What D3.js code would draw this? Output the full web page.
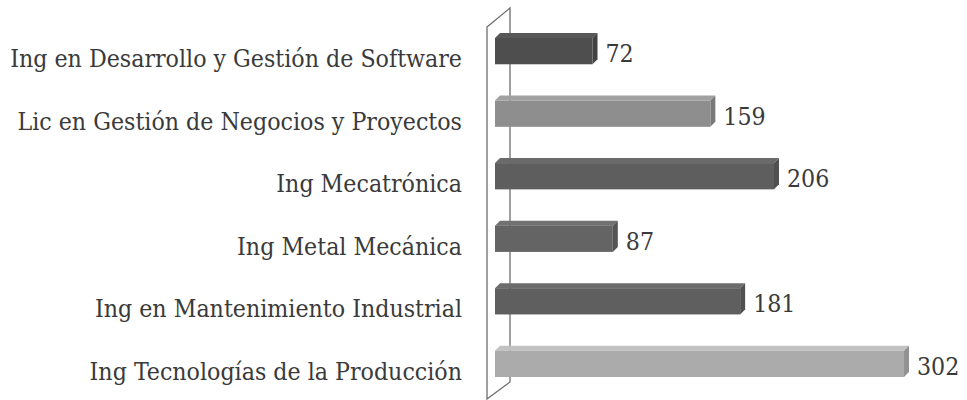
<!DOCTYPE html>
<html>
<head>
<meta charset="utf-8">
<script src="https://cdn.jsdelivr.net/npm/d3@7"></script>
<style>
  html, body { margin: 0; padding: 0; background: #fff; }
  svg { display: block; }
  text { font-family: "DejaVu Serif Condensed", "DejaVu Serif", "Liberation Serif", serif; fill: #3a3a3a; }
</style>
</head>
<body>
<svg id="chart" width="967" height="400"></svg>
<script>
// Enrolment per programme
const categories = [
  "Ing en Desarrollo y Gestión de Software",
  "Lic en Gestión de Negocios y Proyectos",
  "Ing Mecatrónica",
  "Ing Metal Mecánica",
  "Ing en Mantenimiento Industrial",
  "Ing Tecnologías de la Producción"
];
const values = [72, 159, 206, 87, 181, 302];
const barColors = ["#4e4e4e", "#8e8e8e", "#5e5e5e", "#646464", "#5f5f5f", "#ababab"];

const svg = d3.select("#chart");
const depth = 5;          // 3-D offset of bar top/side faces
const labelRight = 462;
const labelLeft = 10;

// Size the font so the longest category label spans the left margin
const probe = svg.append("text").attr("font-size", 20).text(categories[0]);
const fontSize = 20 * (labelRight - labelLeft) / probe.node().getComputedTextLength();
probe.remove();

const x = d3.scaleLinear().domain([0, 302]).range([495, 904]);
const y = d3.scaleBand().domain(categories).range([33, 377]).paddingInner(0.5).paddingOuter(0);

// Back wall of the 3-D plot area
const wallLeft = 487, wallRight = 510;
svg.append("path")
  .attr("d", `M${wallLeft},27 L${wallRight},8 L${wallRight},382 L${wallLeft},399 Z`)
  .attr("fill", "none")
  .attr("stroke", "#6e6e6e")
  .attr("stroke-width", 1.3);

const bars = svg.append("g").selectAll("g")
  .data(categories.map((c, i) => ({ c, v: values[i], col: barColors[i] })))
  .join("g");

bars.each(function (d) {
  const g = d3.select(this);
  const x0 = x(0), x1 = x(d.v);
  const top = y(d.c), bottom = y(d.c) + y.bandwidth();
  const ft = top + depth; // top of the front face
  const base = d3.color(d.col);
  // top face
  g.append("path")
    .attr("d", `M${x0},${ft} L${x0 + depth},${top} L${x1 + depth},${top} L${x1},${ft} Z`)
    .attr("fill", base.brighter(0.35));
  // side face
  g.append("path")
    .attr("d", `M${x1},${ft} L${x1 + depth},${top} L${x1 + depth},${bottom - depth} L${x1},${bottom} Z`)
    .attr("fill", base.darker(0.45));
  // front face
  g.append("rect")
    .attr("x", x0).attr("y", ft)
    .attr("width", x1 - x0).attr("height", bottom - ft)
    .attr("fill", base);
  // value label
  g.append("text")
    .attr("x", x1 + depth + 8)
    .attr("y", bottom - 2)
    .attr("font-size", fontSize)
    .text(d.v);
});

// Category labels
svg.append("g").selectAll("text")
  .data(categories)
  .join("text")
  .attr("x", labelRight)
  .attr("y", d => y(d) + y.bandwidth() + 3)
  .attr("text-anchor", "end")
  .attr("font-size", fontSize)
  .text(d => d);
</script>
</body>
</html>
